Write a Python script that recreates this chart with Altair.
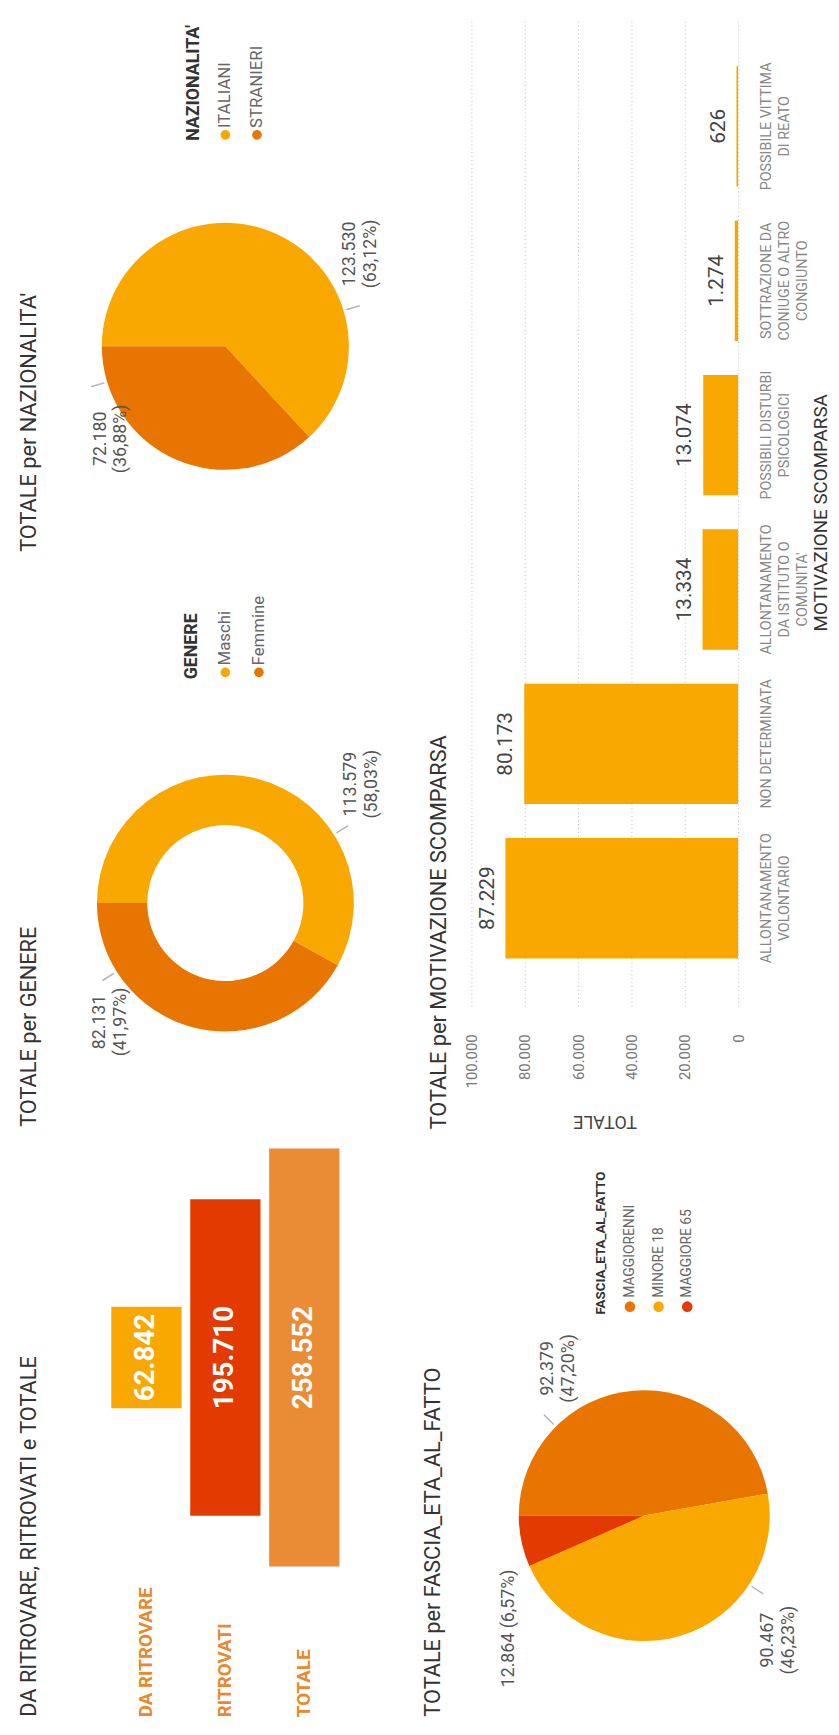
import math
import altair as alt
import pandas as pd

# ---------------- data ----------------
FUNNEL_CATS = ["DA RITROVARE", "RITROVATI", "TOTALE"]
FUNNEL_VALS = [62842, 195710, 258552]
FUNNEL_COLORS = ["#F8A800", "#E23A00", "#EA8B35"]

GEN_CATS = ["Maschi", "Femmine"]
GEN_VALS = [113579, 82131]
GEN_COLORS = ["#F8A800", "#E87500"]

NAZ_CATS = ["ITALIANI", "STRANIERI"]
NAZ_VALS = [123530, 72180]
NAZ_COLORS = ["#F8A800", "#E87500"]

FASCIA_CATS = ["MAGGIORENNI", "MINORE 18", "MAGGIORE 65"]
FASCIA_VALS = [92379, 90467, 12864]
FASCIA_COLORS = ["#E87500", "#F8A800", "#E23A00"]

MOT_CATS = ["ALLONTANAMENTO VOLONTARIO", "NON DETERMINATA",
            "ALLONTANAMENTO DA ISTITUTO O COMUNITA'", "POSSIBILI DISTURBI PSICOLOGICI",
            "SOTTRAZIONE DA CONIUGE O ALTRO CONGIUNTO", "POSSIBILE VITTIMA DI REATO"]
MOT_LABEL_LINES = [["ALLONTANAMENTO", "VOLONTARIO"], ["NON DETERMINATA"],
                   ["ALLONTANAMENTO", "DA ISTITUTO O", "COMUNITA'"],
                   ["POSSIBILI DISTURBI", "PSICOLOGICI"],
                   ["SOTTRAZIONE DA", "CONIUGE O ALTRO", "CONGIUNTO"],
                   ["POSSIBILE VITTIMA", "DI REATO"]]
MOT_VALS = [87229, 80173, 13334, 13074, 1274, 626]
MOT_TICKS = [0, 20000, 40000, 60000, 80000, 100000]

FONT = "Roboto"
TITLE_COLOR = "#333333"
TITLE_SIZE = 22


def it(n):
    return f"{n:,}".replace(",", ".")


def pct(v, t):
    return f"({v / t * 100:.2f}%)".replace(".", ",")


# ---------------- helpers ----------------
def legend_chart(title, cats, colors, width, height, step, tsize, isize, csize, cyoff, tdx):
    n = len(cats)
    df = pd.DataFrame({"col": list(range(n + 1)),
                       "text": [title] + cats,
                       "kind": ["title"] + ["item"] * n})
    c = n / 2
    half = width / (2 * step)
    base = alt.Chart(df).encode(
        x=alt.X("col:Q", axis=None,
                scale=alt.Scale(domain=[c - half, c + half], nice=False, zero=False)),
        y=alt.value("height"),
    )
    ttl = base.transform_filter("datum.kind == 'title'").mark_text(
        angle=270, align="left", baseline="middle", fontSize=tsize,
        fontWeight="bold", color=TITLE_COLOR).encode(text="text:N")
    dots = base.transform_filter("datum.kind == 'item'").mark_circle(
        size=csize, opacity=1, yOffset=cyoff).encode(
        color=alt.Color("text:N", scale=alt.Scale(domain=cats, range=colors), legend=None))
    items = base.transform_filter("datum.kind == 'item'").mark_text(
        angle=270, align="left", baseline="middle", dx=tdx, fontSize=isize,
        color="#666666").encode(text="text:N")
    return alt.layer(ttl, dots, items).properties(width=width, height=height)


def pie_chart(title, cats, vals, colors, width, height, outer, inner,
              lab_r, lab_off, lead_off, title_off):
    total = sum(vals)
    labels = []
    big = []
    for v in vals:
        if v / total >= 0.10:
            labels.append(it(v) + "\n" + pct(v, total))
            big.append(True)
        else:
            labels.append(it(v) + " " + pct(v, total))
            big.append(False)
    df = pd.DataFrame({"cat": cats, "val": vals, "idx": list(range(len(cats))),
                       "label": labels, "big": big})
    theta_scale = alt.Scale(range=[-math.pi / 2, 3 * math.pi / 2])
    base = alt.Chart(df).encode(
        theta=alt.Theta("val:Q", stack=True, scale=theta_scale),
        order=alt.Order("idx:Q", sort="ascending"),
    )
    arcs = base.mark_arc(outerRadius=outer, innerRadius=inner).encode(
        color=alt.Color("cat:N", scale=alt.Scale(domain=cats, range=colors), legend=None))
    texts = base.mark_text(radius=lab_r, thetaOffset=lab_off, angle=270,
                           align="center", baseline="middle", lineBreak="\n",
                           lineHeight=21, fontSize=18, color="#555555").encode(text="label:N")
    leads = alt.Chart(df).transform_window(
        cum="sum(val)", sort=[alt.SortField("idx", order="ascending")], frame=[None, 0]
    ).transform_filter("datum.big").transform_calculate(
        a0="datum.cum - datum.val / 2",
        a1=f"datum.cum - datum.val / 2 + {total * 0.0018}",
    ).mark_arc(innerRadius=outer + 3, outerRadius=outer + 17, thetaOffset=lead_off,
               theta2Offset=lead_off, color="#b5b5b5").encode(
        theta=alt.Theta("a0:Q", stack=None, scale=theta_scale),
        theta2="a1:Q",
    )
    return alt.layer(arcs, leads, texts).properties(
        width=width, height=height,
        title=alt.TitleParams(title, orient="left", anchor="start", frame="group",
                              offset=title_off, fontSize=TITLE_SIZE, fontWeight="normal",
                              color=TITLE_COLOR, font=FONT))


def indep(c):
    return c.resolve_scale(color="independent", theta="independent",
                           x="independent", y="independent")


# ---------------- left column ----------------
LW = 274
naz_leg = legend_chart("NAZIONALITA'", NAZ_CATS, NAZ_COLORS, LW, 124, 32, 18, 17, 95, -6, 13)
naz_pie = pie_chart("TOTALE per NAZIONALITA'", NAZ_CATS, NAZ_VALS, NAZ_COLORS,
                    LW, 416, 125, 0, 157, 0.52, 0.86, 50)
gen_leg = legend_chart("GENERE", GEN_CATS, GEN_COLORS, LW, 129, 34, 18, 17, 95, -7, 14)
gen_pie = pie_chart("TOTALE per GENERE", GEN_CATS, GEN_VALS, GEN_COLORS,
                    LW, 453, 130, 79, 175, 0.56, 0.75, 50)

fun_df = pd.DataFrame({"cat": FUNNEL_CATS, "val": FUNNEL_VALS,
                       "txt": [it(v) for v in FUNNEL_VALS]})
half = max(FUNNEL_VALS) * 467 / 423 / 2
fbase = alt.Chart(fun_df).transform_calculate(
    lo="-datum.val / 2", hi="datum.val / 2", mid="0"
).encode(
    x=alt.X("cat:N", sort=FUNNEL_CATS,
            scale=alt.Scale(paddingInner=0.11, paddingOuter=0.27),
            axis=alt.Axis(orient="bottom", title=None, labelAngle=270, labelAlign="left",
                          labelBaseline="middle", labelPadding=130, labelFontSize=19,
                          labelFontWeight="bold", labelColor="#E8892F", ticks=False,
                          domain=False, labelFont=FONT)),
)
fbars = fbase.mark_bar().encode(
    y=alt.Y("lo:Q", scale=alt.Scale(domain=[-half, half], nice=False, zero=False), axis=None),
    y2="hi:Q",
    color=alt.Color("cat:N", scale=alt.Scale(domain=FUNNEL_CATS, range=FUNNEL_COLORS), legend=None),
)
fvals = fbase.mark_text(angle=270, align="center", baseline="middle", fontSize=28,
                        fontWeight="bold", color="white").encode(
    y=alt.Y("mid:Q"), text="txt:N")
funnel = alt.layer(fbars, fvals).properties(
    width=LW, height=467,
    title=alt.TitleParams("DA RITROVARE, RITROVATI e TOTALE", orient="left", anchor="start",
                          frame="bounds", offset=50, fontSize=TITLE_SIZE, fontWeight="normal",
                          color=TITLE_COLOR, font=FONT))

left = indep(alt.vconcat(naz_leg, naz_pie, gen_leg, gen_pie, funnel, spacing=0, bounds="flush"))

# ---------------- right column ----------------
mot_df = pd.DataFrame({"cat": MOT_CATS,
                       "lab": ["|".join(l) for l in MOT_LABEL_LINES],
                       "val": MOT_VALS,
                       "txt": [it(v) for v in MOT_VALS]})
lab_order = list(reversed(["|".join(l) for l in MOT_LABEL_LINES]))
mbase = alt.Chart(mot_df).encode(
    y=alt.Y("lab:N", sort=lab_order,
            scale=alt.Scale(paddingInner=0.22, paddingOuter=0.31),
            axis=alt.Axis(orient="right", title="MOTIVAZIONE SCOMPARSA",
                          labelExpr="split(datum.label, '|')", labelAngle=270,
                          labelAlign="center", labelBaseline="top", labelPadding=22,
                          labelFontSize=14.5, labelColor="#888888", labelLineHeight=18,
                          titleAngle=270, titleFontSize=19, titleColor=TITLE_COLOR,
                          titleFontWeight="normal", titlePadding=22, ticks=False,
                          domain=False, grid=False, labelFont=FONT, titleFont=FONT)),
    x=alt.X("val:Q", scale=alt.Scale(domain=[0, 100000], reverse=True, nice=False),
            axis=alt.Axis(values=MOT_TICKS, orient="bottom", title="TOTALE",
                          titleAngle=180, titleBaseline="bottom", titlePadding=24,
                          titleFontSize=18, titleColor="#444444", titleFontWeight="normal",
                          labelAngle=270, labelAlign="right", labelBaseline="middle",
                          labelPadding=28, labelFontSize=15, labelColor="#777777",
                          grid=True, gridDash=[1, 3], gridColor="#bbbbbb",
                          domain=False, ticks=False, labelFont=FONT, titleFont=FONT,
                          labelExpr="replace(format(datum.value, ','), ',', '.')")),
)
mbars = mbase.mark_bar(color="#F8A800")
mvals = mbase.mark_text(angle=270, align="center", baseline="bottom", dy=-8,
                        fontSize=21, color="#444444").encode(text="txt:N")
mot = alt.layer(mbars, mvals).properties(
    width=270, height=1000,
    title=alt.TitleParams("TOTALE per MOTIVAZIONE SCOMPARSA", orient="left", anchor="start",
                          frame="bounds", offset=14, fontSize=TITLE_SIZE, fontWeight="normal",
                          color=TITLE_COLOR, font=FONT))

RW = 350
fas_leg = legend_chart("FASCIA_ETA_AL_FATTO", FASCIA_CATS, FASCIA_COLORS, RW, 312, 29,
                       13.5, 14, 115, -8, 17)
fas_pie = pie_chart("TOTALE per FASCIA_ETA_AL_FATTO", FASCIA_CATS, FASCIA_VALS, FASCIA_COLORS,
                    RW, 407, 127, 0, 178, -0.49, -0.70, 27)

right = indep(alt.vconcat(mot, fas_leg, fas_pie, spacing=0, bounds="flush"))

chart = indep(alt.hconcat(left, right, spacing=40)).properties(
    padding={"left": 9, "top": 0, "right": 0, "bottom": 0}
).configure(font=FONT).configure_view(stroke=None)

chart.save("out.html", embed_options={"renderer": "svg", "actions": False})
